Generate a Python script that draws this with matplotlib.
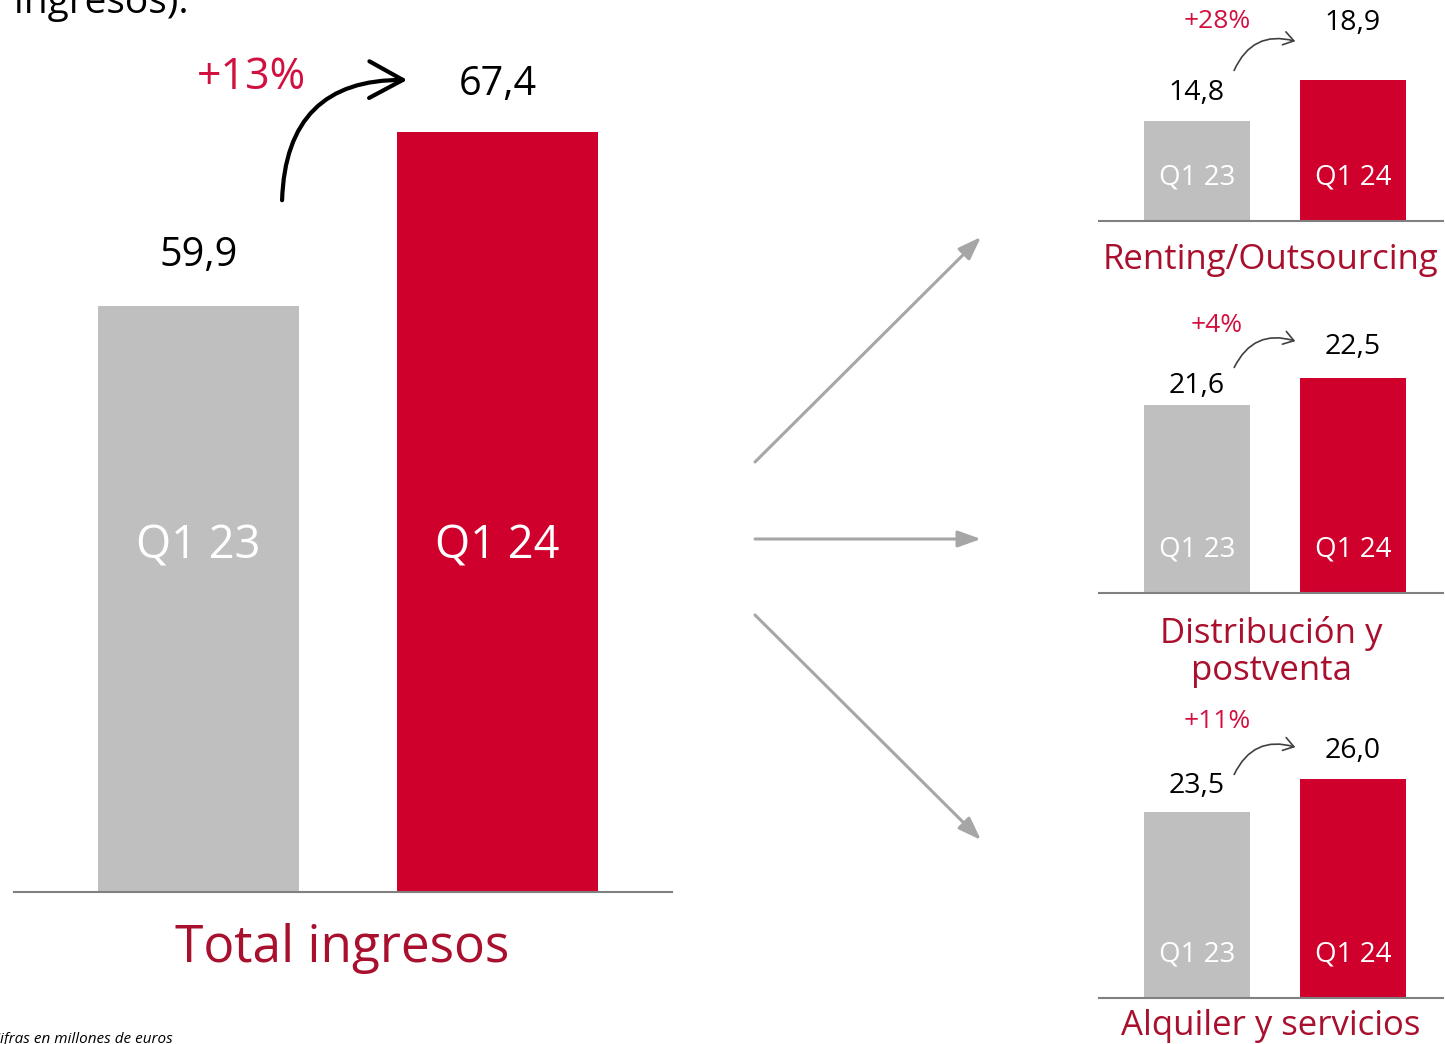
import matplotlib.pyplot as plt
from matplotlib.patches import FancyArrowPatch

plt.rcParams['font.family'] = ['Open Sans', 'DejaVu Sans']

W, H = 1445, 1044

periods = ["Q1 23", "Q1 24"]
total_values = [59.9, 67.4]
total_label = "Total ingresos"
total_growth = "+13%"

segments = ["Renting/Outsourcing", "Distribución y\npostventa", "Alquiler y servicios"]
segment_values = [[14.8, 18.9], [21.6, 22.5], [23.5, 26.0]]
segment_growth = ["+28%", "+4%", "+11%"]

RED = "#D0002D"
GREY = "#BFBFBF"
DARKRED = "#A8102E"
PCTRED = "#D21040"


def fmt(v):
    return f"{v:.1f}".replace(".", ",")


def px_axes(left, top, right, bottom):
    return fig.add_axes([left / W, 1 - bottom / H, (right - left) / W, (bottom - top) / H])


fig = plt.figure(figsize=(W / 100, H / 100), dpi=100)

# overlay in pixel coords for decorations
ov = fig.add_axes([0, 0, 1, 1])
ov.set_xlim(0, W)
ov.set_ylim(H, 0)
ov.axis("off")


def bar_panel(ax, vals, ylim, xlim, width, fs_val, fs_q, q_off, val_offs):
    ax.bar([0, 1], vals, width=width, color=[GREY, RED])
    ax.set_ylim(*ylim)
    ax.set_xlim(*xlim)
    for s in ["top", "left", "right"]:
        ax.spines[s].set_visible(False)
    ax.spines["bottom"].set_color("#808080")
    ax.spines["bottom"].set_linewidth(1.5)
    ax.set_xticks([])
    ax.set_yticks([])
    ax.patch.set_alpha(0)
    for i, v in enumerate(vals):
        ax.annotate(fmt(v), (i, v), xytext=(0, val_offs[i]), textcoords="offset points",
                    ha="center", va="center", fontsize=fs_val, color="black")
        ax.annotate(periods[i], (i, ylim[0]), xytext=(0, q_off), textcoords="offset points",
                    ha="center", va="center", fontsize=fs_q, color="white")


# main chart
ax = px_axes(14, 40, 672, 892)
bar_panel(ax, total_values, (34.65, 71.37), (-0.617, 1.584), 0.672, 28.5, 32.5, 249, [36, 34])
ov.text(251, 78, total_growth, ha="center", va="center", fontsize=31, color=PCTRED)
ov.text(342, 948, total_label, ha="center", va="center", fontsize=37, color=DARKRED)
ov.add_patch(FancyArrowPatch((282, 203), (410, 80), connectionstyle="arc3,rad=-0.5",
                             arrowstyle="->,head_length=1.1,head_width=0.6", mutation_scale=22,
                             lw=3, color="black"))

# partially cut heading and footnote
ov.text(14, 13, "ingresos).", ha="left", va="baseline", fontsize=28, color="black")
ov.text(173, 1043, "Cifras en millones de euros", ha="right", va="baseline",
        fontsize=11, style="italic", color="black")

# grey connector arrows
starts = [462, 539, 615]
ends = [237, 539, 840]
for y0, y1 in zip(starts, ends):
    ov.annotate("", xy=(981, y1), xytext=(755, y0),
                arrowprops=dict(arrowstyle="-|>,head_length=0.7,head_width=0.25",
                                color="#A6A6A6", lw=2.2, mutation_scale=20,
                                shrinkA=0, shrinkB=0))

# small panels
panel_tops = [0, 300, 700]
panel_bottoms = [221, 593, 998]
panel_ylims = [(4.8, 26.9), (15.33, 25.1), (9.41, 32.0)]
val_offsets = [[20, 41], [14, 22], [19, 20]]
pct_y = [21, 325, 722]
arrow_y = [(73, 42), (370, 342), (777, 748)]
label_y = [260, 652, 1026]

for k in range(3):
    ax = px_axes(1099, panel_tops[k], 1443, panel_bottoms[k])
    bar_panel(ax, segment_values[k], panel_ylims[k], (-0.628, 1.577), 0.68, 20.5, 20, 31.5,
              val_offsets[k])
    ov.text(1217, pct_y[k], segment_growth[k], ha="center", va="center", fontsize=19,
            color=PCTRED)
    ov.add_patch(FancyArrowPatch((1233, arrow_y[k][0]), (1298, arrow_y[k][1]),
                                 connectionstyle="arc3,rad=-0.45",
                                 arrowstyle="->,head_length=0.6,head_width=0.4",
                                 mutation_scale=12, lw=1.2, color="#404040"))
    ov.text(1271, label_y[k], segments[k], ha="center", va="center", fontsize=25,
            color=DARKRED, linespacing=1.1)

fig.savefig("out.png", dpi=100)
